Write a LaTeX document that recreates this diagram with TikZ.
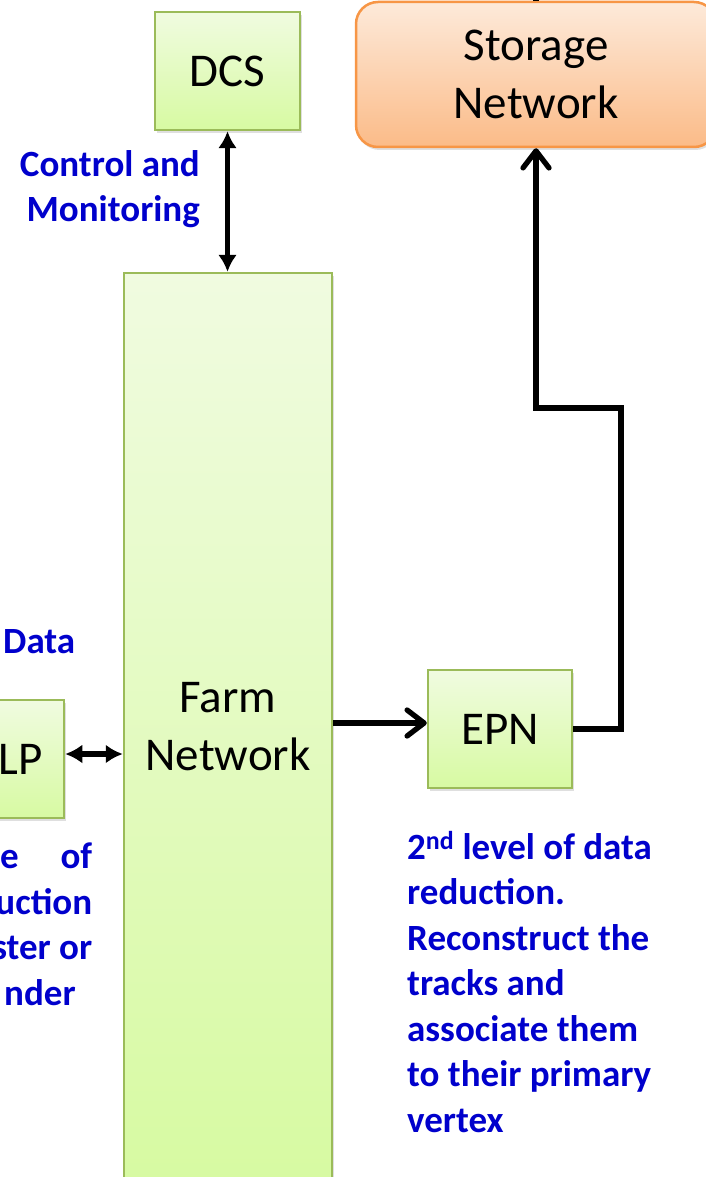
\documentclass[tikz,border=0pt]{standalone}
\usepackage{fontspec}
\setmainfont{Carlito}
\usetikzlibrary{arrows.meta,shadows}
\definecolor{gborder}{HTML}{9BBB59}
\definecolor{gtop}{RGB}{240,251,224}
\definecolor{gbot}{RGB}{215,250,162}
\definecolor{oborder}{HTML}{F79646}
\definecolor{otop}{RGB}{253,234,218}
\definecolor{obot}{RGB}{251,187,136}
\definecolor{bluetxt}{RGB}{0,0,204}
\tikzset{
  filltip/.tip={Latex[length=17pt,width=19pt]},
  opentip/.tip={Straight Barb[length=17pt,width=26pt,round]}
}
\begin{document}
\begin{tikzpicture}[x=1pt,y=-1pt,
  gbox/.style={draw=gborder, line width=2.5pt, top color=gtop, bottom color=gbot,
    drop shadow={opacity=0.25,shadow xshift=1.5pt,shadow yshift=-3pt},
    inner sep=0pt, align=center, font=\fontsize{47}{58}\selectfont},
  obox/.style={draw=oborder, line width=2.5pt, top color=otop, bottom color=obot,
    rounded corners=22pt,
    drop shadow={opacity=0.25,shadow xshift=1.5pt,shadow yshift=-3pt},
    inner sep=0pt, align=center, font=\fontsize{47}{58}\selectfont},
  conn/.style={line width=5.3pt, black},
  btext/.style={text=bluetxt, inner sep=0pt, font=\bfseries\fontsize{37}{45.5}\selectfont}
]
\useasboundingbox (0,0) rectangle (706,1177);
\fill[white] (0,0) rectangle (706,1177);

% boxes
\node[gbox, minimum width=145pt, minimum height=118pt] (dcs) at (227.5,71) {DCS};
\node[obox, minimum width=360pt, minimum height=145pt] (st) at (536,74.5) {Storage\\Network};
\node[gbox, minimum width=208pt, minimum height=908pt] (farm) at (228,727) {Farm\\Network};
\node[gbox, minimum width=108pt, minimum height=118pt] (flp) at (10,759) {FLP};
\node[gbox, minimum width=144pt, minimum height=118pt] (epn) at (500,729) {EPN};

% connectors
\draw[conn, filltip-filltip] (dcs.south) -- (dcs.south |- farm.north);
\draw[conn, filltip-filltip] ([yshift=5pt]flp.east) -- ([yshift=5pt]flp.east -| farm.west);
\draw[conn, -opentip] ([yshift=6pt]epn.west -| farm.east) -- ([yshift=6pt]epn.west);
\coordinate (bend) at (621,408);
\coordinate (topout) at (536,-30);
\draw[conn, -opentip, line join=miter] (epn.east) -| (bend) -| (st.south);
\draw[conn] (st.north) -- (topout);

% blue texts
\node[btext, anchor=base east, align=right] (cm) at (200,222) {Control and\\Monitoring};
\node[btext, anchor=base west] (data) at (3,653) {Data};
\node[btext, anchor=base west, align=left] (flpnote) at (0,1005)
  {\makebox[92pt][s]{e \hfill of}\\\makebox[92pt][r]{uction}\\\makebox[92pt][r]{ster or}\\\makebox[92pt][l]{\hspace{4pt}nder}};
\node[btext, anchor=base west, align=left] (epnnote) at (407,1132)
  {2\textsuperscript{nd} level of data\\reduction.\\Reconstruct the\\tracks and\\associate them\\to their primary\\vertex};
\end{tikzpicture}
\end{document}
